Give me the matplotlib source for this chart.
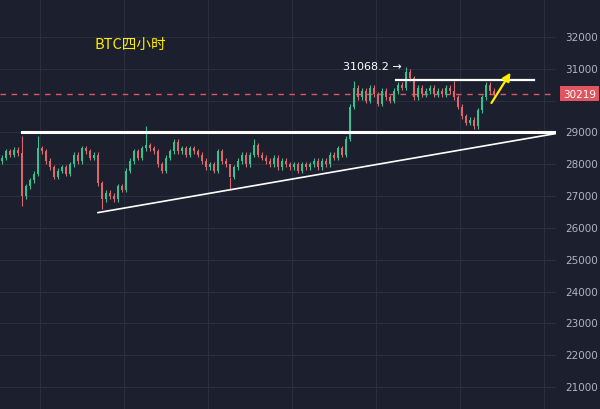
import matplotlib
matplotlib.use("Agg")
import matplotlib.pyplot as plt

closes = [28200,28400,28300,28450,28350,27000,27300,27500,27700,28500,
          28400,28100,27900,27600,27800,27900,27700,28000,28300,28100,
          28500,28400,28200,28300,27400,26900,27100,27000,26900,27300,
          27200,27800,28100,28400,28200,28500,28600,28500,28400,28000,
          27800,28200,28400,28700,28400,28500,28300,28500,28400,28300,
          28100,27900,28000,27800,28400,28100,28000,27600,27900,28100,
          28300,28000,28300,28600,28300,28200,28100,28000,28200,27900,
          28100,28000,27900,28000,27800,28000,27900,28000,28100,27900,
          28100,28000,28300,28200,28500,28300,28800,29800,30400,30100,
          30300,30000,30400,30200,29900,30300,30100,30000,30300,30500,
          30400,30900,30700,30100,30400,30200,30300,30400,30200,30300,
          30200,30400,30300,30100,29800,29500,29300,29400,29200,29700,
          30100,30500,30300,30219]
first_open = 28100
spike_highs = {5: 28900, 9: 28900, 36: 29200, 57: 27600, 63: 28800, 88: 30600, 101: 31068, 113: 30600}
spike_lows = {5: 26700, 25: 26600, 57: 27200, 118: 29100}
y_ticks = [21000,22000,23000,24000,25000,26000,27000,28000,29000,30000,31000,32000]
last_price = 30219
peak_label = "31068.2"
title = "BTC四小时"

BG = "#1c1f2e"; UP = "#3cbf8f"; DN = "#d9686a"; GRID = "#2a2e3f"
fig = plt.figure(figsize=(6, 4.1), dpi=100, facecolor=BG)
ax = fig.add_axes([0, 0, 556/600, 1], facecolor=BG)
ax.set_xlim(-0.5, 138.5)
ax.set_ylim(20310, 33190)
for s in ax.spines.values():
    s.set_visible(False)
ax.tick_params(left=False, bottom=False, labelbottom=False, labelleft=False)
for y in y_ticks:
    ax.axhline(y, color=GRID, lw=0.8, zorder=0)
for xv in [9.5, 30.5, 51.5, 72.5, 93.5, 114.5, 135.5]:
    ax.axvline(xv, color=GRID, lw=0.8, zorder=0)

prev = first_open
for i, c in enumerate(closes):
    o = prev
    col = UP if c >= o else DN
    hi = spike_highs.get(i, max(o, c) + 80)
    lo = spike_lows.get(i, min(o, c) - 80)
    ax.vlines(i, lo, hi, color=col, lw=0.8, zorder=2)
    ax.bar(i, max(abs(c - o), 20), bottom=min(o, c), width=0.6, color=col, zorder=2)
    prev = c

ax.axhline(last_price, color="#e05560", lw=1, ls=(0, (4, 4)), zorder=1)
ax.plot([5, 138.5], [29000, 29000], color="white", lw=2.2, zorder=3)
ax.plot([24, 138.3], [26480, 28960], color="white", lw=1.2, zorder=3)
ax.plot([98.5, 133], [30650, 30650], color="white", lw=1.6, zorder=3)
ax.annotate("", xy=(127.5, 30950), xytext=(122, 29850),
            arrowprops=dict(arrowstyle="-|>", color="#ffee00", lw=1.6, mutation_scale=12), zorder=4)
ax.text(100, 31070, peak_label + " →", color="white", fontsize=8, ha="right", va="center",
        fontfamily="DejaVu Sans")
ax.text(23, 31780, title, color="#ffee00", fontsize=10.5, va="center",
        fontfamily=["Noto Sans CJK SC", "DejaVu Sans"])

for y in y_ticks:
    if y == 30000:
        continue
    fig.text(565/600, (y - 20310) / (33190 - 20310), str(y), color="#b2b5be", fontsize=7.5,
             va="center", ha="left")
fig.text(563/600, (last_price - 20310) / (33190 - 20310), str(last_price), color="white",
         fontsize=7.5, va="center", ha="left",
         bbox=dict(boxstyle="square,pad=0.25", fc="#e05560", ec="none"))
fig.savefig("out.png", facecolor=BG)
